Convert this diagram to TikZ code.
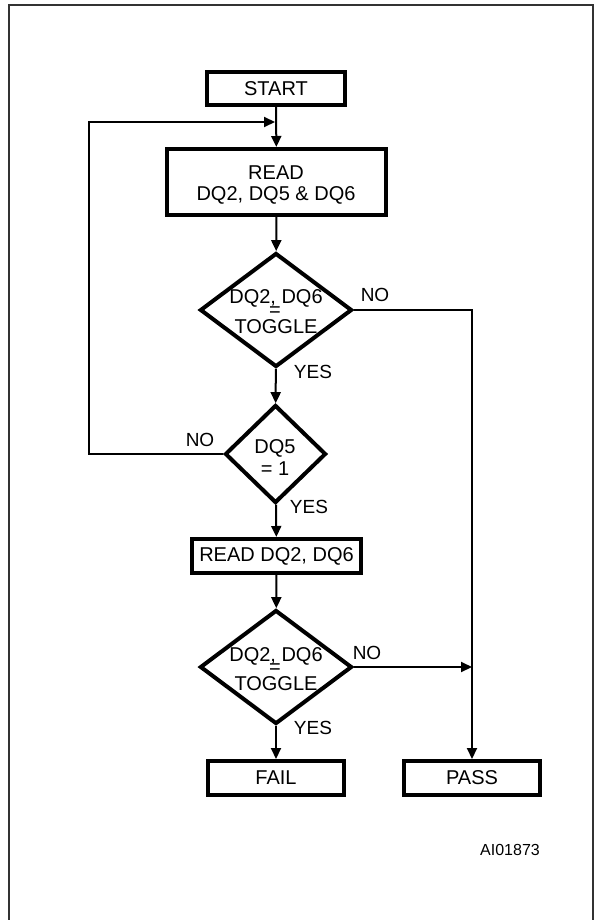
\documentclass[tikz,border=0pt]{standalone}
\usepackage{fontspec}
\setmainfont{Liberation Sans}
\usetikzlibrary{shapes.geometric,arrows.meta}
\begin{document}
\begin{tikzpicture}[x=1pt,y=-1pt,
  box/.style={draw,line width=4pt,rectangle,inner sep=0pt,font=\fontsize{20}{24}\selectfont,align=center},
  dia/.style={draw,line width=4pt,diamond,inner sep=0pt,minimum width=152pt,minimum height=114pt},
  txt/.style={inner sep=0pt,font=\fontsize{20}{24}\selectfont},
  lbl/.style={inner sep=0pt,font=\fontsize{19}{22}\selectfont},
  arr/.style={line width=2pt,-{Triangle[length=11pt,width=10pt]}},
  frame/.style={line width=2pt,draw=black!80}]
\useasboundingbox (0,0) rectangle (594,920);
\draw[frame] (8.5,920) -- (8.5,5.5) -- (592.5,5.5) -- (592.5,920);
% nodes
\node[box,minimum width=138pt,minimum height=33pt] (start) at (276,88.5) {START};
\node[box,minimum width=219pt,minimum height=66pt] (read) at (276.5,182) {};
\node[txt] (reada) at (276,173) {READ};
\node[txt] (readb) at (276,195) {DQ2, DQ5 \& DQ6};
\node[dia] (d1) at (276,310) {};
\node[txt] (d1a) at (276,298) {DQ2, DQ6};
\node[txt] (d1b) at (275,312) {=};
\node[txt] (d1c) at (276,327) {TOGGLE};
\node[dia,minimum width=101pt,minimum height=98pt] (d2) at (275.5,454) {};
\node[txt] (d2a) at (275,448) {DQ5};
\node[txt] (d2b) at (275,469) {= 1};
\node[box,minimum width=169pt,minimum height=34pt] (read2) at (276.5,556) {READ DQ2, DQ6};
\node[dia] (d3) at (276,667) {};
\node[txt] (d3a) at (276,656) {DQ2, DQ6};
\node[txt] (d3b) at (275,669) {=};
\node[txt] (d3c) at (276,684) {TOGGLE};
\node[box,minimum width=136pt,minimum height=34pt] (fail) at (276,778) {FAIL};
\node[box,minimum width=136pt,minimum height=34pt] (pass) at (472,778) {PASS};
\node[lbl] (n1) at (375,295) {NO};
\node[lbl] (y1) at (313,372) {YES};
\node[lbl] (n2) at (200,440) {NO};
\node[lbl] (y2) at (309,507) {YES};
\node[lbl] (n3) at (367,653) {NO};
\node[lbl] (y3) at (313,728) {YES};
\node[inner sep=0pt,font=\fontsize{16}{19}\selectfont] (id) at (510,850) {AI01873};
\coordinate (j1) at (276,122);
\coordinate (lc) at (89,122);
% connectors
\draw[arr] (start) -- (read);
\draw[arr] (read) -- (d1);
\draw[arr] (d1) -- (d2);
\draw[arr] (d2) -- (read2);
\draw[arr] (read2) -- (d3);
\draw[arr] (d3) -- (fail);
\draw[arr] (d1.east) -| (pass.north);
\draw[arr] (d3.east) -- (d3.east -| pass.north);
\draw[arr,shorten >=1pt] (d2.west) -| (lc) -- (j1);
\end{tikzpicture}
\end{document}
